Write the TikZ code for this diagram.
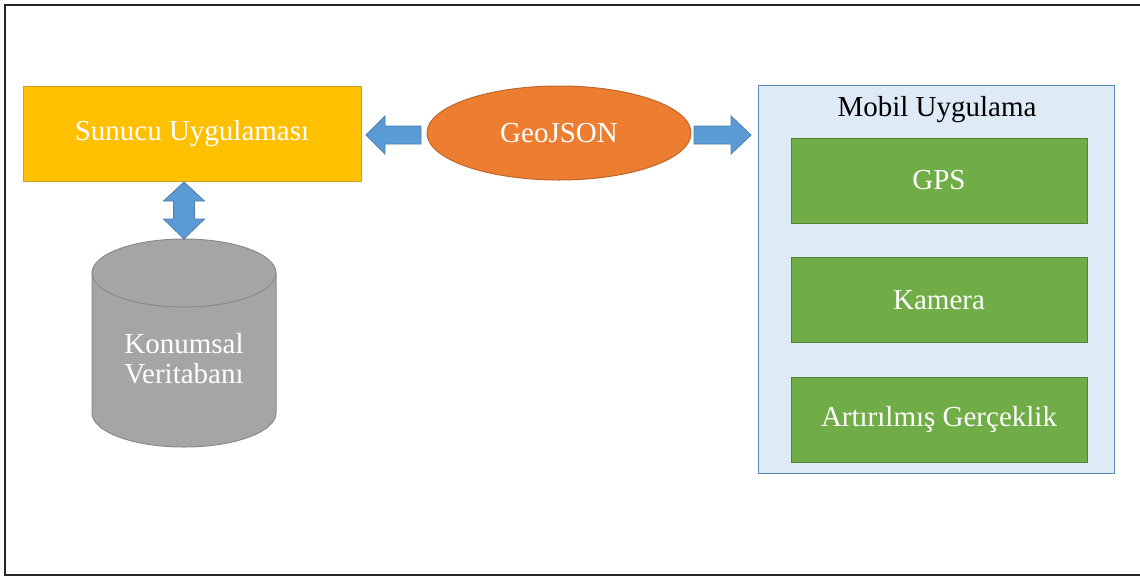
\documentclass[tikz,border=0pt]{standalone}
\usepackage{fontspec}
\setmainfont{Liberation Serif}
\usetikzlibrary{shapes.geometric}

\definecolor{srvfill}{HTML}{FFC000}
\definecolor{srvline}{HTML}{C9A227}
\definecolor{geofill}{HTML}{ED7D31}
\definecolor{geoline}{HTML}{C0672A}
\definecolor{dbfill}{HTML}{A5A5A5}
\definecolor{dbline}{HTML}{8A8A8A}
\definecolor{mobfill}{HTML}{DEEBF7}
\definecolor{mobline}{HTML}{5B88BC}
\definecolor{modfill}{HTML}{70AD47}
\definecolor{modline}{HTML}{548235}
\definecolor{arrfill}{HTML}{5B9BD5}
\definecolor{arrline}{HTML}{4A7FB0}

\tikzset{
  lbl/.style={font=\fontsize{29}{30}\selectfont, text=white, inner sep=0pt},
  modbox/.style={draw=modline, fill=modfill, line width=1pt,
    minimum width=296pt, minimum height=85pt, lbl},
  blockarrow/.style={draw=arrline, fill=arrfill, line width=0.8pt, line join=miter},
}

\begin{document}
\begin{tikzpicture}[x=1pt, y=-1pt]
  \useasboundingbox (0,0) rectangle (1140,576);
  \clip (0,0) rectangle (1140,576);

  % outer frame
  \draw[line width=2pt, black!85] (5,5) rectangle (1160,575);

  % server application
  \node[draw=srvline, fill=srvfill, line width=1pt, minimum width=338pt,
        minimum height=95pt, lbl] (srv) at (192,133.5) {Sunucu Uygulaması};

  % GeoJSON ellipse
  \node[ellipse, draw=geoline, fill=geofill, line width=1pt, minimum width=264pt,
        minimum height=94pt, lbl] (geo) at (559,133) {GeoJSON};

  % mobile application container
  \node[draw=mobline, fill=mobfill, line width=1pt, minimum width=356pt,
        minimum height=388pt, inner sep=0pt] (mob) at (936,279) {};
  \node[lbl, text=black] (mobtitle) at (937,110) {Mobil Uygulama};

  % mobile modules
  \node[modbox] (gps) at (939,180.5) {GPS};
  \node[modbox] (cam) at (939,300) {Kamera};
  \node[modbox] (ar)  at (939,420) {Artırılmış Gerçeklik};

  % spatial database cylinder
  \path[draw=dbline, fill=dbfill, line width=1pt]
    (92,273) -- (92,413)
    arc[start angle=180, end angle=0, x radius=92, y radius=34]
    -- (276,273)
    arc[start angle=0, end angle=-180, x radius=92, y radius=34] -- cycle;
  \draw[dbline, line width=1pt]
    (92,273) arc[start angle=180, end angle=0, x radius=92, y radius=34];
  \coordinate (dbtop) at (184,239);
  \node[lbl, align=center] (db) at (184,359) {Konumsal\\Veritabanı};

  % block arrows
  \draw[blockarrow] (366,135) -- (385,116) -- (385,126) -- (421,126)
    -- (421,144) -- (385,144) -- (385,154) -- cycle;
  \draw[blockarrow] (694,126) -- (731,126) -- (731,116) -- (751,135)
    -- (731,154) -- (731,144) -- (694,144) -- cycle;
  \draw[blockarrow] (184,182) -- (204.5,201) -- (194.5,201) -- (194.5,219)
    -- (204.5,219) -- (184,239) -- (163.5,219) -- (173.5,219) -- (173.5,201)
    -- (163.5,201) -- cycle;
\end{tikzpicture}
\end{document}
